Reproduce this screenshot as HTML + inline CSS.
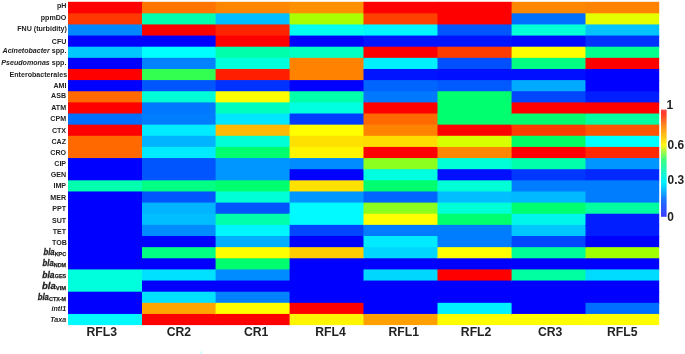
<!DOCTYPE html>
<html><head><meta charset="utf-8"><title>Heatmap</title>
<style>
html,body{margin:0;padding:0;background:#fff;}
body{width:685px;height:354px;overflow:hidden;}
svg{display:block;}
text{font-family:"Liberation Sans",Arial,Helvetica,sans-serif;font-weight:bold;fill:#222;}
</style></head><body>
<svg width="685" height="354" viewBox="0 0 685 354">
<defs><linearGradient id="cb" x1="0" y1="0" x2="0" y2="1">
<stop offset="0" stop-color="rgb(255,70,70)"/>
<stop offset="0.04" stop-color="rgb(255,60,40)"/>
<stop offset="0.15" stop-color="rgb(255,140,30)"/>
<stop offset="0.33" stop-color="rgb(255,245,20)"/>
<stop offset="0.47" stop-color="rgb(60,255,130)"/>
<stop offset="0.68" stop-color="rgb(0,240,255)"/>
<stop offset="0.85" stop-color="rgb(30,110,255)"/>
<stop offset="1" stop-color="rgb(60,60,255)"/>
</linearGradient></defs>
<rect x="0" y="0" width="685" height="354" fill="#fff"/>
<g>
<rect x="68.00" y="1.80" width="75.00" height="12.50" fill="rgb(255,0,0)"/>
<rect x="68.00" y="13.30" width="75.00" height="12.14" fill="rgb(255,55,0)"/>
<rect x="68.00" y="24.44" width="75.00" height="12.13" fill="rgb(0,135,255)"/>
<rect x="68.00" y="35.57" width="75.00" height="12.13" fill="rgb(0,0,255)"/>
<rect x="68.00" y="46.70" width="75.00" height="12.14" fill="rgb(0,200,255)"/>
<rect x="68.00" y="57.84" width="75.00" height="12.13" fill="rgb(0,0,255)"/>
<rect x="68.00" y="68.97" width="75.00" height="12.14" fill="rgb(255,0,0)"/>
<rect x="68.00" y="80.11" width="75.00" height="12.13" fill="rgb(0,0,255)"/>
<rect x="68.00" y="91.24" width="75.00" height="12.14" fill="rgb(255,105,0)"/>
<rect x="68.00" y="102.38" width="75.00" height="12.14" fill="rgb(255,0,0)"/>
<rect x="68.00" y="113.52" width="75.00" height="12.13" fill="rgb(0,110,255)"/>
<rect x="68.00" y="124.65" width="75.00" height="12.14" fill="rgb(255,0,0)"/>
<rect x="68.00" y="135.78" width="75.00" height="12.14" fill="rgb(255,105,0)"/>
<rect x="68.00" y="146.92" width="75.00" height="12.13" fill="rgb(255,105,0)"/>
<rect x="68.00" y="158.06" width="75.00" height="12.13" fill="rgb(0,0,255)"/>
<rect x="68.00" y="169.19" width="75.00" height="12.14" fill="rgb(0,0,255)"/>
<rect x="68.00" y="180.33" width="75.00" height="12.13" fill="rgb(0,255,175)"/>
<rect x="68.00" y="191.46" width="75.00" height="12.13" fill="rgb(0,0,255)"/>
<rect x="68.00" y="202.59" width="75.00" height="12.14" fill="rgb(0,0,255)"/>
<rect x="68.00" y="213.73" width="75.00" height="12.13" fill="rgb(0,0,255)"/>
<rect x="68.00" y="224.87" width="75.00" height="12.13" fill="rgb(0,0,255)"/>
<rect x="68.00" y="236.00" width="75.00" height="12.14" fill="rgb(0,0,255)"/>
<rect x="68.00" y="247.14" width="75.00" height="12.13" fill="rgb(0,0,255)"/>
<rect x="68.00" y="258.27" width="75.00" height="12.14" fill="rgb(0,0,255)"/>
<rect x="68.00" y="269.41" width="75.00" height="12.13" fill="rgb(0,255,220)"/>
<rect x="68.00" y="280.54" width="75.00" height="12.13" fill="rgb(0,255,220)"/>
<rect x="68.00" y="291.68" width="75.00" height="12.13" fill="rgb(0,0,255)"/>
<rect x="68.00" y="302.81" width="75.00" height="12.13" fill="rgb(0,0,255)"/>
<rect x="68.00" y="313.94" width="75.00" height="11.16" fill="rgb(0,250,255)"/>
<rect x="142.00" y="1.80" width="74.60" height="12.50" fill="rgb(255,115,0)"/>
<rect x="142.00" y="13.30" width="74.60" height="12.14" fill="rgb(0,255,175)"/>
<rect x="142.00" y="24.44" width="74.60" height="12.13" fill="rgb(255,0,0)"/>
<rect x="142.00" y="35.57" width="74.60" height="12.13" fill="rgb(0,0,255)"/>
<rect x="142.00" y="46.70" width="74.60" height="12.14" fill="rgb(0,255,255)"/>
<rect x="142.00" y="57.84" width="74.60" height="12.13" fill="rgb(0,130,255)"/>
<rect x="142.00" y="68.97" width="74.60" height="12.14" fill="rgb(50,255,80)"/>
<rect x="142.00" y="80.11" width="74.60" height="12.13" fill="rgb(0,85,255)"/>
<rect x="142.00" y="91.24" width="74.60" height="12.14" fill="rgb(0,255,215)"/>
<rect x="142.00" y="102.38" width="74.60" height="12.14" fill="rgb(0,120,255)"/>
<rect x="142.00" y="113.52" width="74.60" height="12.13" fill="rgb(0,125,255)"/>
<rect x="142.00" y="124.65" width="74.60" height="12.14" fill="rgb(0,235,255)"/>
<rect x="142.00" y="135.78" width="74.60" height="12.14" fill="rgb(0,180,255)"/>
<rect x="142.00" y="146.92" width="74.60" height="12.13" fill="rgb(0,235,255)"/>
<rect x="142.00" y="158.06" width="74.60" height="12.13" fill="rgb(0,85,255)"/>
<rect x="142.00" y="169.19" width="74.60" height="12.14" fill="rgb(0,85,255)"/>
<rect x="142.00" y="180.33" width="74.60" height="12.13" fill="rgb(0,255,130)"/>
<rect x="142.00" y="191.46" width="74.60" height="12.13" fill="rgb(0,85,255)"/>
<rect x="142.00" y="202.59" width="74.60" height="12.14" fill="rgb(0,180,255)"/>
<rect x="142.00" y="213.73" width="74.60" height="12.13" fill="rgb(0,190,255)"/>
<rect x="142.00" y="224.87" width="74.60" height="12.13" fill="rgb(0,140,255)"/>
<rect x="142.00" y="236.00" width="74.60" height="12.14" fill="rgb(0,0,255)"/>
<rect x="142.00" y="247.14" width="74.60" height="12.13" fill="rgb(0,255,130)"/>
<rect x="142.00" y="258.27" width="74.60" height="12.14" fill="rgb(0,0,255)"/>
<rect x="142.00" y="269.41" width="74.60" height="12.13" fill="rgb(0,225,255)"/>
<rect x="142.00" y="280.54" width="74.60" height="12.13" fill="rgb(0,0,255)"/>
<rect x="142.00" y="291.68" width="74.60" height="12.13" fill="rgb(0,225,255)"/>
<rect x="142.00" y="302.81" width="74.60" height="12.13" fill="rgb(255,165,0)"/>
<rect x="142.00" y="313.94" width="74.60" height="11.16" fill="rgb(255,0,0)"/>
<rect x="215.60" y="1.80" width="75.00" height="12.50" fill="rgb(255,135,0)"/>
<rect x="215.60" y="13.30" width="75.00" height="12.14" fill="rgb(0,190,255)"/>
<rect x="215.60" y="24.44" width="75.00" height="12.13" fill="rgb(255,35,0)"/>
<rect x="215.60" y="35.57" width="75.00" height="12.13" fill="rgb(255,0,0)"/>
<rect x="215.60" y="46.70" width="75.00" height="12.14" fill="rgb(0,255,170)"/>
<rect x="215.60" y="57.84" width="75.00" height="12.13" fill="rgb(0,255,220)"/>
<rect x="215.60" y="68.97" width="75.00" height="12.14" fill="rgb(255,30,0)"/>
<rect x="215.60" y="80.11" width="75.00" height="12.13" fill="rgb(0,50,255)"/>
<rect x="215.60" y="91.24" width="75.00" height="12.14" fill="rgb(255,255,0)"/>
<rect x="215.60" y="102.38" width="75.00" height="12.14" fill="rgb(0,255,190)"/>
<rect x="215.60" y="113.52" width="75.00" height="12.13" fill="rgb(0,230,255)"/>
<rect x="215.60" y="124.65" width="75.00" height="12.14" fill="rgb(255,185,0)"/>
<rect x="215.60" y="135.78" width="75.00" height="12.14" fill="rgb(0,255,215)"/>
<rect x="215.60" y="146.92" width="75.00" height="12.13" fill="rgb(0,255,110)"/>
<rect x="215.60" y="158.06" width="75.00" height="12.13" fill="rgb(0,150,255)"/>
<rect x="215.60" y="169.19" width="75.00" height="12.14" fill="rgb(0,150,255)"/>
<rect x="215.60" y="180.33" width="75.00" height="12.13" fill="rgb(0,255,110)"/>
<rect x="215.60" y="191.46" width="75.00" height="12.13" fill="rgb(0,255,215)"/>
<rect x="215.60" y="202.59" width="75.00" height="12.14" fill="rgb(0,85,255)"/>
<rect x="215.60" y="213.73" width="75.00" height="12.13" fill="rgb(0,255,170)"/>
<rect x="215.60" y="224.87" width="75.00" height="12.13" fill="rgb(0,245,255)"/>
<rect x="215.60" y="236.00" width="75.00" height="12.14" fill="rgb(0,175,255)"/>
<rect x="215.60" y="247.14" width="75.00" height="12.13" fill="rgb(255,255,0)"/>
<rect x="215.60" y="258.27" width="75.00" height="12.14" fill="rgb(0,255,110)"/>
<rect x="215.60" y="269.41" width="75.00" height="12.13" fill="rgb(0,140,255)"/>
<rect x="215.60" y="280.54" width="75.00" height="12.13" fill="rgb(0,0,255)"/>
<rect x="215.60" y="291.68" width="75.00" height="12.13" fill="rgb(0,130,255)"/>
<rect x="215.60" y="302.81" width="75.00" height="12.13" fill="rgb(255,255,0)"/>
<rect x="215.60" y="313.94" width="75.00" height="11.16" fill="rgb(255,0,0)"/>
<rect x="289.60" y="1.80" width="74.90" height="12.50" fill="rgb(255,145,0)"/>
<rect x="289.60" y="13.30" width="74.90" height="12.14" fill="rgb(170,255,0)"/>
<rect x="289.60" y="24.44" width="74.90" height="12.13" fill="rgb(0,255,240)"/>
<rect x="289.60" y="35.57" width="74.90" height="12.13" fill="rgb(0,0,255)"/>
<rect x="289.60" y="46.70" width="74.90" height="12.14" fill="rgb(0,255,195)"/>
<rect x="289.60" y="57.84" width="74.90" height="12.13" fill="rgb(255,130,0)"/>
<rect x="289.60" y="68.97" width="74.90" height="12.14" fill="rgb(255,130,0)"/>
<rect x="289.60" y="80.11" width="74.90" height="12.13" fill="rgb(0,0,255)"/>
<rect x="289.60" y="91.24" width="74.90" height="12.14" fill="rgb(0,255,170)"/>
<rect x="289.60" y="102.38" width="74.90" height="12.14" fill="rgb(0,255,225)"/>
<rect x="289.60" y="113.52" width="74.90" height="12.13" fill="rgb(0,60,255)"/>
<rect x="289.60" y="124.65" width="74.90" height="12.14" fill="rgb(255,255,0)"/>
<rect x="289.60" y="135.78" width="74.90" height="12.14" fill="rgb(255,225,0)"/>
<rect x="289.60" y="146.92" width="74.90" height="12.13" fill="rgb(255,245,0)"/>
<rect x="289.60" y="158.06" width="74.90" height="12.13" fill="rgb(0,140,255)"/>
<rect x="289.60" y="169.19" width="74.90" height="12.14" fill="rgb(0,0,255)"/>
<rect x="289.60" y="180.33" width="74.90" height="12.13" fill="rgb(255,225,0)"/>
<rect x="289.60" y="191.46" width="74.90" height="12.13" fill="rgb(0,150,255)"/>
<rect x="289.60" y="202.59" width="74.90" height="12.14" fill="rgb(0,250,255)"/>
<rect x="289.60" y="213.73" width="74.90" height="12.13" fill="rgb(0,250,255)"/>
<rect x="289.60" y="224.87" width="74.90" height="12.13" fill="rgb(0,70,255)"/>
<rect x="289.60" y="236.00" width="74.90" height="12.14" fill="rgb(0,0,255)"/>
<rect x="289.60" y="247.14" width="74.90" height="12.13" fill="rgb(255,205,0)"/>
<rect x="289.60" y="258.27" width="74.90" height="12.14" fill="rgb(0,0,255)"/>
<rect x="289.60" y="269.41" width="74.90" height="12.13" fill="rgb(0,0,255)"/>
<rect x="289.60" y="280.54" width="74.90" height="12.13" fill="rgb(0,0,255)"/>
<rect x="289.60" y="291.68" width="74.90" height="12.13" fill="rgb(0,0,255)"/>
<rect x="289.60" y="302.81" width="74.90" height="12.13" fill="rgb(255,0,0)"/>
<rect x="289.60" y="313.94" width="74.90" height="11.16" fill="rgb(255,245,0)"/>
<rect x="363.50" y="1.80" width="75.00" height="12.50" fill="rgb(255,0,0)"/>
<rect x="363.50" y="13.30" width="75.00" height="12.14" fill="rgb(255,65,0)"/>
<rect x="363.50" y="24.44" width="75.00" height="12.13" fill="rgb(0,245,255)"/>
<rect x="363.50" y="35.57" width="75.00" height="12.13" fill="rgb(0,20,255)"/>
<rect x="363.50" y="46.70" width="75.00" height="12.14" fill="rgb(255,0,0)"/>
<rect x="363.50" y="57.84" width="75.00" height="12.13" fill="rgb(0,240,255)"/>
<rect x="363.50" y="68.97" width="75.00" height="12.14" fill="rgb(0,20,255)"/>
<rect x="363.50" y="80.11" width="75.00" height="12.13" fill="rgb(0,100,255)"/>
<rect x="363.50" y="91.24" width="75.00" height="12.14" fill="rgb(0,120,255)"/>
<rect x="363.50" y="102.38" width="75.00" height="12.14" fill="rgb(255,0,0)"/>
<rect x="363.50" y="113.52" width="75.00" height="12.13" fill="rgb(255,105,0)"/>
<rect x="363.50" y="124.65" width="75.00" height="12.14" fill="rgb(255,130,0)"/>
<rect x="363.50" y="135.78" width="75.00" height="12.14" fill="rgb(255,220,0)"/>
<rect x="363.50" y="146.92" width="75.00" height="12.13" fill="rgb(255,0,0)"/>
<rect x="363.50" y="158.06" width="75.00" height="12.13" fill="rgb(140,255,30)"/>
<rect x="363.50" y="169.19" width="75.00" height="12.14" fill="rgb(0,255,225)"/>
<rect x="363.50" y="180.33" width="75.00" height="12.13" fill="rgb(0,255,110)"/>
<rect x="363.50" y="191.46" width="75.00" height="12.13" fill="rgb(0,100,255)"/>
<rect x="363.50" y="202.59" width="75.00" height="12.14" fill="rgb(140,255,30)"/>
<rect x="363.50" y="213.73" width="75.00" height="12.13" fill="rgb(255,255,0)"/>
<rect x="363.50" y="224.87" width="75.00" height="12.13" fill="rgb(0,125,255)"/>
<rect x="363.50" y="236.00" width="75.00" height="12.14" fill="rgb(0,235,255)"/>
<rect x="363.50" y="247.14" width="75.00" height="12.13" fill="rgb(0,215,255)"/>
<rect x="363.50" y="258.27" width="75.00" height="12.14" fill="rgb(0,0,255)"/>
<rect x="363.50" y="269.41" width="75.00" height="12.13" fill="rgb(0,215,255)"/>
<rect x="363.50" y="280.54" width="75.00" height="12.13" fill="rgb(0,0,255)"/>
<rect x="363.50" y="291.68" width="75.00" height="12.13" fill="rgb(0,0,255)"/>
<rect x="363.50" y="302.81" width="75.00" height="12.13" fill="rgb(0,0,255)"/>
<rect x="363.50" y="313.94" width="75.00" height="11.16" fill="rgb(255,160,0)"/>
<rect x="437.50" y="1.80" width="75.10" height="12.50" fill="rgb(255,0,0)"/>
<rect x="437.50" y="13.30" width="75.10" height="12.14" fill="rgb(255,0,0)"/>
<rect x="437.50" y="24.44" width="75.10" height="12.13" fill="rgb(0,85,255)"/>
<rect x="437.50" y="35.57" width="75.10" height="12.13" fill="rgb(0,20,255)"/>
<rect x="437.50" y="46.70" width="75.10" height="12.14" fill="rgb(255,60,0)"/>
<rect x="437.50" y="57.84" width="75.10" height="12.13" fill="rgb(0,80,255)"/>
<rect x="437.50" y="68.97" width="75.10" height="12.14" fill="rgb(0,15,255)"/>
<rect x="437.50" y="80.11" width="75.10" height="12.13" fill="rgb(0,90,255)"/>
<rect x="437.50" y="91.24" width="75.10" height="12.14" fill="rgb(0,255,110)"/>
<rect x="437.50" y="102.38" width="75.10" height="12.14" fill="rgb(0,255,110)"/>
<rect x="437.50" y="113.52" width="75.10" height="12.13" fill="rgb(0,255,110)"/>
<rect x="437.50" y="124.65" width="75.10" height="12.14" fill="rgb(255,0,0)"/>
<rect x="437.50" y="135.78" width="75.10" height="12.14" fill="rgb(215,255,0)"/>
<rect x="437.50" y="146.92" width="75.10" height="12.13" fill="rgb(255,135,0)"/>
<rect x="437.50" y="158.06" width="75.10" height="12.13" fill="rgb(0,255,215)"/>
<rect x="437.50" y="169.19" width="75.10" height="12.14" fill="rgb(0,15,255)"/>
<rect x="437.50" y="180.33" width="75.10" height="12.13" fill="rgb(0,255,215)"/>
<rect x="437.50" y="191.46" width="75.10" height="12.13" fill="rgb(0,190,255)"/>
<rect x="437.50" y="202.59" width="75.10" height="12.14" fill="rgb(0,255,215)"/>
<rect x="437.50" y="213.73" width="75.10" height="12.13" fill="rgb(0,255,110)"/>
<rect x="437.50" y="224.87" width="75.10" height="12.13" fill="rgb(0,125,255)"/>
<rect x="437.50" y="236.00" width="75.10" height="12.14" fill="rgb(0,125,255)"/>
<rect x="437.50" y="247.14" width="75.10" height="12.13" fill="rgb(255,255,0)"/>
<rect x="437.50" y="258.27" width="75.10" height="12.14" fill="rgb(0,0,255)"/>
<rect x="437.50" y="269.41" width="75.10" height="12.13" fill="rgb(255,0,0)"/>
<rect x="437.50" y="280.54" width="75.10" height="12.13" fill="rgb(0,0,255)"/>
<rect x="437.50" y="291.68" width="75.10" height="12.13" fill="rgb(0,0,255)"/>
<rect x="437.50" y="302.81" width="75.10" height="12.13" fill="rgb(0,240,255)"/>
<rect x="437.50" y="313.94" width="75.10" height="11.16" fill="rgb(255,255,0)"/>
<rect x="511.60" y="1.80" width="74.90" height="12.50" fill="rgb(255,135,0)"/>
<rect x="511.60" y="13.30" width="74.90" height="12.14" fill="rgb(0,110,255)"/>
<rect x="511.60" y="24.44" width="74.90" height="12.13" fill="rgb(0,255,215)"/>
<rect x="511.60" y="35.57" width="74.90" height="12.13" fill="rgb(0,10,255)"/>
<rect x="511.60" y="46.70" width="74.90" height="12.14" fill="rgb(255,255,0)"/>
<rect x="511.60" y="57.84" width="74.90" height="12.13" fill="rgb(0,255,130)"/>
<rect x="511.60" y="68.97" width="74.90" height="12.14" fill="rgb(0,15,255)"/>
<rect x="511.60" y="80.11" width="74.90" height="12.13" fill="rgb(0,170,255)"/>
<rect x="511.60" y="91.24" width="74.90" height="12.14" fill="rgb(0,70,255)"/>
<rect x="511.60" y="102.38" width="74.90" height="12.14" fill="rgb(255,0,0)"/>
<rect x="511.60" y="113.52" width="74.90" height="12.13" fill="rgb(0,255,110)"/>
<rect x="511.60" y="124.65" width="74.90" height="12.14" fill="rgb(255,60,0)"/>
<rect x="511.60" y="135.78" width="74.90" height="12.14" fill="rgb(0,255,100)"/>
<rect x="511.60" y="146.92" width="74.90" height="12.13" fill="rgb(255,0,0)"/>
<rect x="511.60" y="158.06" width="74.90" height="12.13" fill="rgb(0,255,170)"/>
<rect x="511.60" y="169.19" width="74.90" height="12.14" fill="rgb(0,55,255)"/>
<rect x="511.60" y="180.33" width="74.90" height="12.13" fill="rgb(0,125,255)"/>
<rect x="511.60" y="191.46" width="74.90" height="12.13" fill="rgb(0,185,255)"/>
<rect x="511.60" y="202.59" width="74.90" height="12.14" fill="rgb(0,255,110)"/>
<rect x="511.60" y="213.73" width="74.90" height="12.13" fill="rgb(0,245,235)"/>
<rect x="511.60" y="224.87" width="74.90" height="12.13" fill="rgb(0,200,255)"/>
<rect x="511.60" y="236.00" width="74.90" height="12.14" fill="rgb(0,70,255)"/>
<rect x="511.60" y="247.14" width="74.90" height="12.13" fill="rgb(0,255,150)"/>
<rect x="511.60" y="258.27" width="74.90" height="12.14" fill="rgb(0,0,255)"/>
<rect x="511.60" y="269.41" width="74.90" height="12.13" fill="rgb(0,255,160)"/>
<rect x="511.60" y="280.54" width="74.90" height="12.13" fill="rgb(0,0,255)"/>
<rect x="511.60" y="291.68" width="74.90" height="12.13" fill="rgb(0,0,255)"/>
<rect x="511.60" y="302.81" width="74.90" height="12.13" fill="rgb(0,0,255)"/>
<rect x="511.60" y="313.94" width="74.90" height="11.16" fill="rgb(255,255,0)"/>
<rect x="585.50" y="1.80" width="73.70" height="12.50" fill="rgb(255,130,0)"/>
<rect x="585.50" y="13.30" width="73.70" height="12.14" fill="rgb(230,255,0)"/>
<rect x="585.50" y="24.44" width="73.70" height="12.13" fill="rgb(0,195,255)"/>
<rect x="585.50" y="35.57" width="73.70" height="12.13" fill="rgb(0,50,255)"/>
<rect x="585.50" y="46.70" width="73.70" height="12.14" fill="rgb(0,255,140)"/>
<rect x="585.50" y="57.84" width="73.70" height="12.13" fill="rgb(255,0,0)"/>
<rect x="585.50" y="68.97" width="73.70" height="12.14" fill="rgb(0,0,255)"/>
<rect x="585.50" y="80.11" width="73.70" height="12.13" fill="rgb(0,0,255)"/>
<rect x="585.50" y="91.24" width="73.70" height="12.14" fill="rgb(0,30,255)"/>
<rect x="585.50" y="102.38" width="73.70" height="12.14" fill="rgb(255,0,0)"/>
<rect x="585.50" y="113.52" width="73.70" height="12.13" fill="rgb(0,255,160)"/>
<rect x="585.50" y="124.65" width="73.70" height="12.14" fill="rgb(255,85,0)"/>
<rect x="585.50" y="135.78" width="73.70" height="12.14" fill="rgb(0,255,255)"/>
<rect x="585.50" y="146.92" width="73.70" height="12.13" fill="rgb(255,40,0)"/>
<rect x="585.50" y="158.06" width="73.70" height="12.13" fill="rgb(0,150,255)"/>
<rect x="585.50" y="169.19" width="73.70" height="12.14" fill="rgb(0,40,255)"/>
<rect x="585.50" y="180.33" width="73.70" height="12.13" fill="rgb(0,125,255)"/>
<rect x="585.50" y="191.46" width="73.70" height="12.13" fill="rgb(0,125,255)"/>
<rect x="585.50" y="202.59" width="73.70" height="12.14" fill="rgb(0,255,160)"/>
<rect x="585.50" y="213.73" width="73.70" height="12.13" fill="rgb(0,30,255)"/>
<rect x="585.50" y="224.87" width="73.70" height="12.13" fill="rgb(0,30,255)"/>
<rect x="585.50" y="236.00" width="73.70" height="12.14" fill="rgb(0,0,255)"/>
<rect x="585.50" y="247.14" width="73.70" height="12.13" fill="rgb(160,255,0)"/>
<rect x="585.50" y="258.27" width="73.70" height="12.14" fill="rgb(0,0,255)"/>
<rect x="585.50" y="269.41" width="73.70" height="12.13" fill="rgb(0,220,255)"/>
<rect x="585.50" y="280.54" width="73.70" height="12.13" fill="rgb(0,0,255)"/>
<rect x="585.50" y="291.68" width="73.70" height="12.13" fill="rgb(0,0,255)"/>
<rect x="585.50" y="302.81" width="73.70" height="12.13" fill="rgb(0,110,255)"/>
<rect x="585.50" y="313.94" width="73.70" height="11.16" fill="rgb(255,255,0)"/>
</g>
<rect x="200.5" y="351.4" width="1.5" height="2.6" fill="rgb(195,250,255)"/>
<rect x="661" y="109.6" width="5.6" height="107.2" fill="url(#cb)"/>
<g>
<text x="66.4" y="8.2" text-anchor="end" font-size="7.1">pH</text>
<text x="66.4" y="20.0" text-anchor="end" font-size="7.1">ppmDO</text>
<text x="66.9" y="30.8" text-anchor="end" font-size="7.1">FNU (turbidity)</text>
<text x="66.4" y="43.5" text-anchor="end" font-size="7.1">CFU</text>
<text x="66.4" y="53.3" text-anchor="end" font-size="7.1"><tspan font-style="italic">Acinetobacter</tspan> spp.</text>
<text x="66.4" y="64.9" text-anchor="end" font-size="7.1"><tspan font-style="italic">Pseudomonas</tspan> spp.</text>
<text x="67.1" y="77.3" text-anchor="end" font-size="7.1">Enterobacterales</text>
<text x="66.4" y="88.3" text-anchor="end" font-size="7.1">AMI</text>
<text x="66.1" y="98.3" text-anchor="end" font-size="7.1">ASB</text>
<text x="66.1" y="109.5" text-anchor="end" font-size="7.1">ATM</text>
<text x="66.1" y="120.9" text-anchor="end" font-size="7.1">CPM</text>
<text x="66.1" y="132.8" text-anchor="end" font-size="7.1">CTX</text>
<text x="66.1" y="143.9" text-anchor="end" font-size="7.1">CAZ</text>
<text x="66.1" y="155.2" text-anchor="end" font-size="7.1">CRO</text>
<text x="66.1" y="165.6" text-anchor="end" font-size="7.1">CIP</text>
<text x="66.1" y="176.6" text-anchor="end" font-size="7.1">GEN</text>
<text x="66.1" y="187.7" text-anchor="end" font-size="7.1">IMP</text>
<text x="66.1" y="199.9" text-anchor="end" font-size="7.1">MER</text>
<text x="66.1" y="211.2" text-anchor="end" font-size="7.1">PPT</text>
<text x="66.1" y="223.3" text-anchor="end" font-size="7.1">SUT</text>
<text x="66.1" y="233.9" text-anchor="end" font-size="7.1">TET</text>
<text x="66.9" y="245.2" text-anchor="end" font-size="7.1">TOB</text>
<text x="66.1" y="310.8" text-anchor="end" font-size="7.1"><tspan font-style="italic">intI1</tspan></text>
<text x="66.1" y="321.6" text-anchor="end" font-size="7.1"><tspan font-style="italic">Taxa</tspan></text>
<text x="66.1" y="255.6" text-anchor="end" font-size="5.4" stroke="#222" stroke-width="0.25">KPC</text>
<text transform="translate(54.60,255.2) scale(0.88,1)" text-anchor="end" font-size="8.8" font-style="italic" stroke="#222" stroke-width="0.3">bla</text>
<text x="66.1" y="266.8" text-anchor="end" font-size="5.4" stroke="#222" stroke-width="0.25">NDM</text>
<text transform="translate(53.70,266.4) scale(0.88,1)" text-anchor="end" font-size="8.8" font-style="italic" stroke="#222" stroke-width="0.3">bla</text>
<text x="66.1" y="278.1" text-anchor="end" font-size="5.4" stroke="#222" stroke-width="0.25">GES</text>
<text transform="translate(54.60,277.7) scale(0.945,1)" text-anchor="end" font-size="9" font-style="italic" stroke="#222" stroke-width="0.3">bla</text>
<text x="66.1" y="289.8" text-anchor="end" font-size="5.8" stroke="#222" stroke-width="0.25">VIM</text>
<text transform="translate(55.69,289.4) scale(0.97,1)" text-anchor="end" font-size="9.8" font-style="italic" stroke="#222" stroke-width="0.3">bla</text>
<text x="66.1" y="300.7" text-anchor="end" font-size="5.4" stroke="#222" stroke-width="0.25">CTX-M</text>
<text transform="translate(48.90,300.3) scale(0.88,1)" text-anchor="end" font-size="8.8" font-style="italic" stroke="#222" stroke-width="0.3">bla</text>
<text x="101.8" y="335.9" text-anchor="middle" font-size="12.2">RFL3</text>
<text x="178.9" y="335.9" text-anchor="middle" font-size="12.2">CR2</text>
<text x="256.2" y="335.9" text-anchor="middle" font-size="12.2">CR1</text>
<text x="330.5" y="335.9" text-anchor="middle" font-size="12.2">RFL4</text>
<text x="403.8" y="335.9" text-anchor="middle" font-size="12.2">RFL1</text>
<text x="476.1" y="335.9" text-anchor="middle" font-size="12.2">RFL2</text>
<text x="550.1" y="335.9" text-anchor="middle" font-size="12.2">CR3</text>
<text x="622.2" y="335.9" text-anchor="middle" font-size="12.2">RFL5</text>
<text x="666.6" y="108.6" font-size="11.9">1</text>
<text x="667.6" y="148.9" font-size="11.9">0.6</text>
<text x="667.6" y="184.1" font-size="11.9">0.3</text>
<text x="667.2" y="221.3" font-size="11.9">0</text>
</g>
</svg>
</body></html>
